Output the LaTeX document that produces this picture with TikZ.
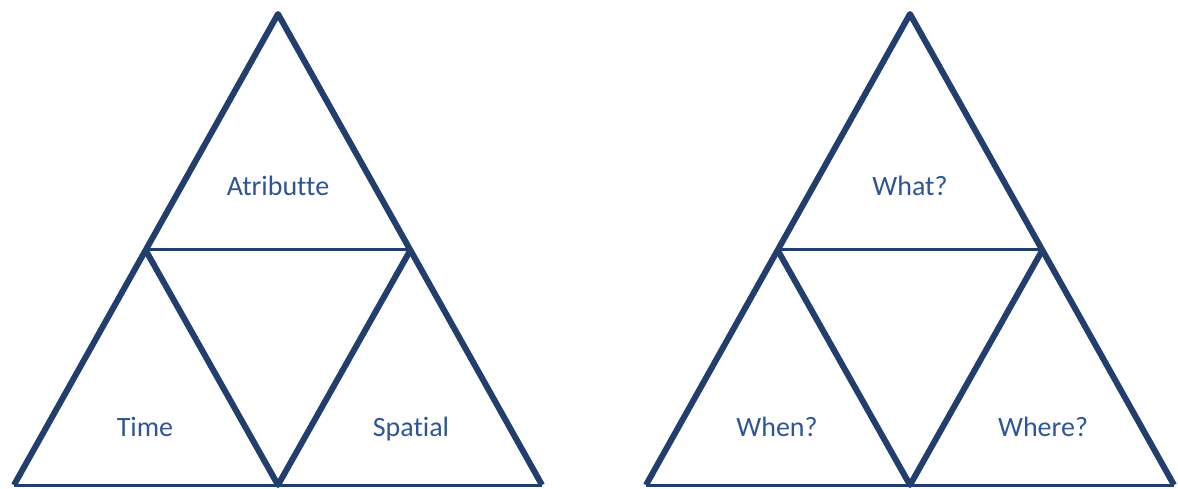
\documentclass[tikz,border=0pt]{standalone}
\usepackage{fontspec}
\setmainfont[Ligatures=NoCommon]{Carlito}
\definecolor{trinavy}{RGB}{33,62,108}
\definecolor{labelblue}{RGB}{47,85,151}
\tikzset{
  sidethick/.style={draw=trinavy,line width=6pt,line join=round},
  sidethin/.style={draw=trinavy,line width=3pt},
  trilabel/.style={inner sep=0pt,anchor=base,font=\fontsize{28}{32}\selectfont,text=labelblue}
}
\begin{document}
\begin{tikzpicture}[x=1pt,y=-1pt]
\useasboundingbox (0,0) rectangle (1178,488);
% two triangles, each cut into four
\foreach \cx/\tg/\toptext/\lefttext/\righttext in {278/a/Atributte/Time/Spatial, 910/b/What?/When?/Where?}{
  \coordinate (\tg-apex) at (\cx,14);
  \coordinate (\tg-bl) at (\cx-264,485);
  \coordinate (\tg-br) at (\cx+264,485);
  \coordinate (\tg-bm) at (\cx,485);
  \coordinate (\tg-ml) at (\cx-133,249);
  \coordinate (\tg-mr) at (\cx+133,249);
  \draw[sidethin] (\tg-bl) -- (\tg-br);
  \draw[sidethick] (\tg-bl) -- (\tg-apex) -- (\tg-br);
  \draw[sidethin] (\tg-ml) -- (\tg-mr);
  \draw[sidethick] (\tg-ml) -- (\tg-bm) -- (\tg-mr);
  \node[trilabel] (\tg-top) at (\cx,195) {\toptext};
  \node[trilabel] (\tg-left) at (\cx-133,436) {\lefttext};
  \node[trilabel] (\tg-right) at (\cx+133,436) {\righttext};
}
\end{tikzpicture}
\end{document}
